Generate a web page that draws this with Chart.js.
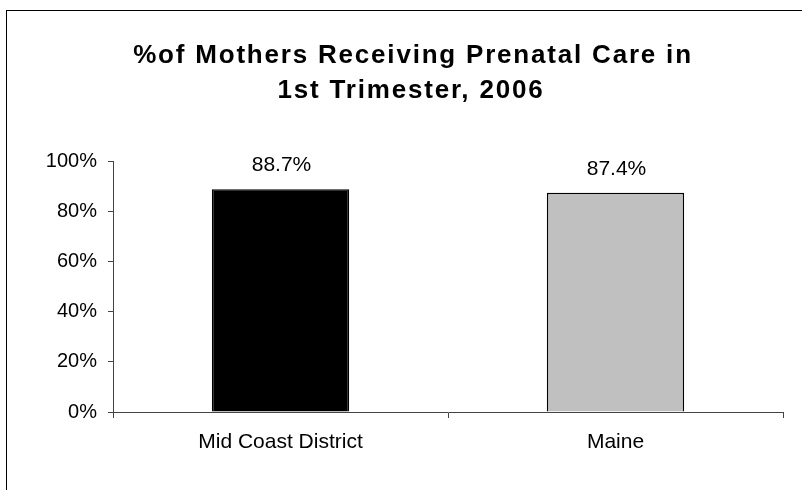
<!DOCTYPE html>
<html>
<head>
<meta charset="utf-8">
<script src="https://cdn.jsdelivr.net/npm/chart.js@4"></script>
<style>
  body { margin: 0; background: #fff; }
  #wrap { position: relative; width: 802px; height: 490px; overflow: hidden; }
  #frame { position: absolute; left: 6px; top: 10px; width: 900px; height: 600px; border: 1px solid #000; pointer-events: none; }
</style>
</head>
<body>
<div id="wrap">
  <canvas id="chart" width="802" height="490"></canvas>
  <div id="frame"></div>
</div>
<script>
// values
const categories = ["Mid Coast District", "Maine"];
const percentValues = [88.7, 87.4];
const barColors = ["#000000", "#C0C0C0"];
const yTicks = [0, 20, 40, 60, 80, 100];
const titleLines = ["%of Mothers Receiving Prenatal Care in", "1st Trimester, 2006"];

const FONT = "'Liberation Sans', Arial, sans-serif";

// two-line bold title, slightly spaced out like the original
const titlePlugin = {
    id: "spacedTitle",
    afterDraw(chart) {
        const ctx = chart.ctx;
        ctx.save();
        ctx.font = "bold 26px " + FONT;
        ctx.letterSpacing = "1.8px";
        ctx.fillStyle = "#000";
        ctx.textAlign = "center";
        ctx.textBaseline = "alphabetic";
        ctx.fillText(titleLines[0], 413, 63);
        ctx.fillText(titleLines[1], 411, 98);
        ctx.restore();
    }
};

// draws the value above each bar
const valueLabels = {
    id: "valueLabels",
    afterDatasetsDraw(chart) {
        const ctx = chart.ctx;
        const meta = chart.getDatasetMeta(0);
        ctx.save();
        ctx.font = "21px " + FONT;
        ctx.fillStyle = "#000";
        ctx.textAlign = "center";
        ctx.textBaseline = "alphabetic";
        meta.data.forEach((bar, i) => {
            ctx.fillText(percentValues[i].toFixed(1) + "%", bar.x + 1, bar.y - 18);
        });
        ctx.restore();
    }
};

const ctx = document.getElementById("chart").getContext("2d");
new Chart(ctx, {
    type: "bar",
    data: {
        labels: categories,
        datasets: [{
            data: percentValues,
            backgroundColor: barColors,
            borderColor: "#000",
            borderWidth: 1.5,
            barPercentage: 0.41,
            categoryPercentage: 1
        }]
    },
    options: {
        responsive: false,
        animation: false,
        layout: { padding: { left: 0, right: 19, top: 161, bottom: 0 } },
        plugins: {
            legend: { display: false },
            tooltip: { enabled: false },
            title: { display: false }
        },
        scales: {
            x: {
                grid: { drawOnChartArea: false, drawTicks: true, tickLength: 6, color: "#444", offset: true },
                border: { color: "#444", width: 1 },
                ticks: { color: "#000", font: { family: FONT, size: 21 }, padding: 12 },
                afterFit: (scale) => { scale.height = 78; }
            },
            y: {
                min: 0,
                max: 100,
                afterBuildTicks: (scale) => { scale.ticks = yTicks.map(v => ({ value: v })); },
                grid: { drawOnChartArea: false, drawTicks: true, tickLength: 5, color: "#444" },
                border: { color: "#444", width: 1 },
                ticks: { color: "#000", font: { family: FONT, size: 20 }, padding: 11, callback: (v) => v + "%" },
                afterFit: (scale) => { scale.width = 113; }
            }
        }
    },
    plugins: [valueLabels, titlePlugin]
});
</script>
</body>
</html>
